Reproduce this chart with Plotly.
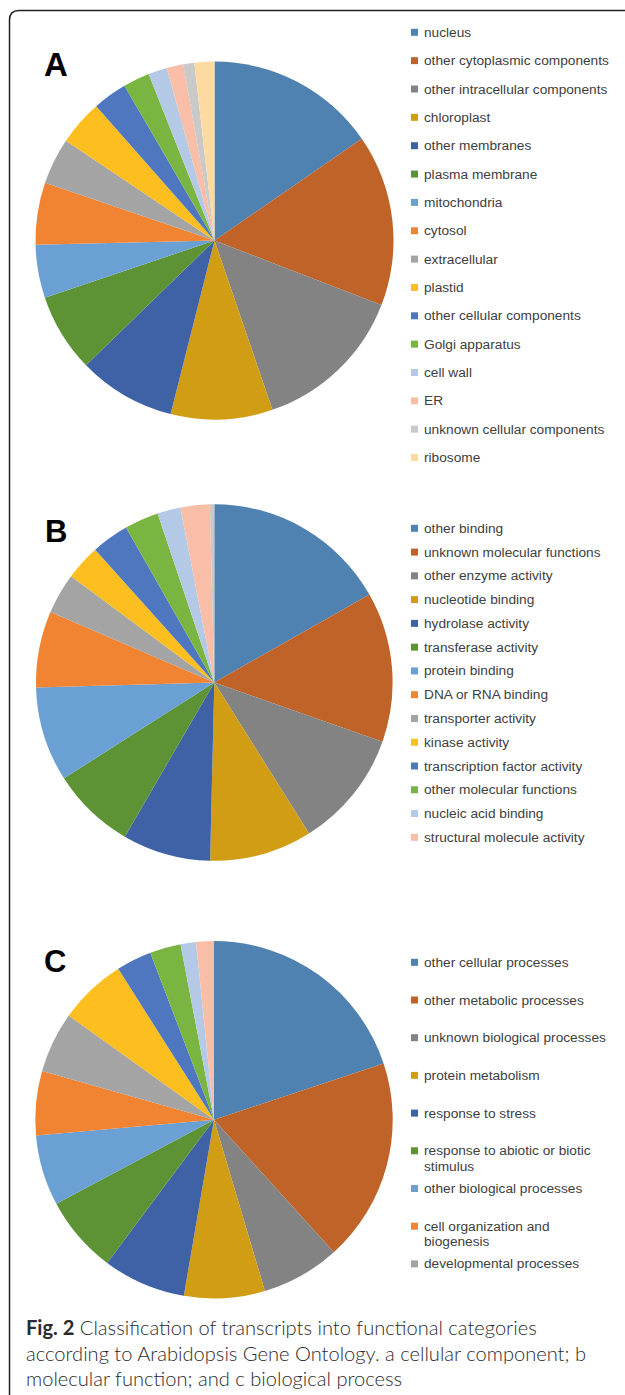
import plotly.graph_objects as go

W, H = 625, 1395

# ---------------- data ----------------
colors = ["#4F81B1", "#BF6328", "#838383", "#D09D14", "#3F62A7", "#5E9335",
          "#6AA0D3", "#F08432", "#A4A4A4", "#FDBF20", "#4E77BF", "#7AB542",
          "#B3C9E6", "#F9BEA8", "#C9C9C9", "#FDDA9F"]

a_labels = ["nucleus", "other cytoplasmic components", "other intracellular components",
            "chloroplast", "other membranes", "plasma membrane", "mitochondria", "cytosol",
            "extracellular", "plastid", "other cellular components", "Golgi apparatus",
            "cell wall", "ER", "unknown cellular components", "ribosome"]
a_values = [15.4, 15.5, 13.9, 9.2, 8.8, 7.1, 4.8, 5.6, 4.2, 4.1, 3.1, 2.4, 1.7, 1.5, 1.0, 1.8]
a_legend = a_labels

b_labels = ["other binding", "unknown molecular functions", "other enzyme activity",
            "nucleotide binding", "hydrolase activity", "transferase activity", "protein binding",
            "DNA or RNA binding", "transporter activity", "kinase activity",
            "transcription factor activity", "other molecular functions", "nucleic acid binding",
            "structural molecule activity", "receptor binding or activity"]
b_values = [16.8, 13.6, 10.7, 9.3, 8.0, 7.6, 8.6, 6.9, 3.7, 3.2, 3.4, 3.1, 2.1, 2.65, 0.4]
b_legend = b_labels[:14]

c_labels = ["other cellular processes", "other metabolic processes", "unknown biological processes",
            "protein metabolism", "response to stress", "response to abiotic or biotic stimulus",
            "other biological processes", "cell organization and biogenesis",
            "developmental processes", "transport", "transcription, DNA-dependent",
            "signal transduction", "DNA or RNA metabolism", "electron transport or energy pathways"]
c_values = [19.9, 18.4, 7.1, 7.3, 7.5, 7.0, 6.4, 5.8, 5.5, 6.1, 3.2, 2.8, 1.4, 1.6]
c_legend = ["other cellular processes", "other metabolic processes", "unknown biological processes",
            "protein metabolism", "response to stress", "response to abiotic or biotic\nstimulus",
            "other biological processes", "cell organization and\nbiogenesis",
            "developmental processes"]

caption_lines = ["<b>Fig. 2</b> Classification of transcripts into functional categories",
                 "according to Arabidopsis Gene Ontology. a cellular component; b",
                 "molecular function; and c biological process"]

# ---------------- layout helpers ----------------
def px(x):
    return x / W

def py(y):
    return 1 - y / H

panels = [
    # letter, labels, values, legend, cx, cy, r, letter(x,y,size), legend y0, step
    ("A", a_labels, a_values, a_legend, 214.5, 240.5, 179.0, (42, 64.5, 33), 32.3, 28.35),
    ("B", b_labels, b_values, b_legend, 214.3, 682.5, 178.3, (42.5, 531, 31), 528.3, 23.77),
    ("C", c_labels, c_values, c_legend, 214.0, 1119.7, 178.7, (42, 961, 31), 962.3, 37.7),
]

fig = go.Figure()
shapes = []
annotations = []

legend_font = dict(family="Liberation Sans, Arial, sans-serif", size=13.7, color="#404040")

for letter, labels, values, legend, cx, cy, r, lpos, ly0, lstep in panels:
    fig.add_trace(go.Pie(
        labels=labels, values=values,
        marker=dict(colors=colors[:len(values)], line=dict(width=0)),
        sort=False, direction="clockwise", rotation=0,
        textinfo="none", showlegend=False,
        domain=dict(x=[px(cx - r), px(cx + r)], y=[py(cy + r), py(cy - r)]),
        hovertemplate="%{label}: %{percent}<extra></extra>",
    ))
    lx, lyc, lsize = lpos
    annotations.append(dict(
        text="<b>%s</b>" % letter, x=px(lx), y=py(lyc), xref="paper", yref="paper",
        xanchor="left", yanchor="middle", showarrow=False,
        font=dict(family="Liberation Sans, Arial, sans-serif", size=lsize, color="#000000")))
    for i, entry in enumerate(legend):
        yc = ly0 + lstep * i
        shapes.append(dict(type="rect", xref="paper", yref="paper",
                           x0=px(411), x1=px(418), y0=py(yc + 3.5), y1=py(yc - 3.5),
                           fillcolor=colors[i], line=dict(width=0)))
        for j, line in enumerate(entry.split("\n")):
            annotations.append(dict(
                text=line, x=px(421.5), y=py(yc + 15.5 * j), xref="paper", yref="paper",
                xanchor="left", yanchor="middle", showarrow=False, font=legend_font))

# caption
for k, line in enumerate(caption_lines):
    annotations.append(dict(
        text=line, x=px(24), y=py(1326.7 + 25.8 * k), xref="paper", yref="paper",
        xanchor="left", yanchor="middle", showarrow=False,
        font=dict(family="Lato, Open Sans, sans-serif", size=20.1, color="#2b2b2b", weight=300)))

# frame (rounded top-left corner)
path = ("M %f,%f L %f,%f Q %f,%f %f,%f L %f,%f" % (
    px(9.5), py(1400), px(9.5), py(20), px(9.5), py(10.5), px(19), py(10.5), px(630), py(10.5)))
shapes.append(dict(type="path", xref="paper", yref="paper", path=path,
                   line=dict(color="#222222", width=1.5)))

fig.update_layout(
    width=W, height=H, margin=dict(l=0, r=0, t=0, b=0),
    paper_bgcolor="white", plot_bgcolor="white",
    showlegend=False, shapes=shapes, annotations=annotations,
)

fig.write_html("out.html", config={"displayModeBar": False},
               post_script="document.body.style.margin='0px';document.body.style.overflow='hidden';")
